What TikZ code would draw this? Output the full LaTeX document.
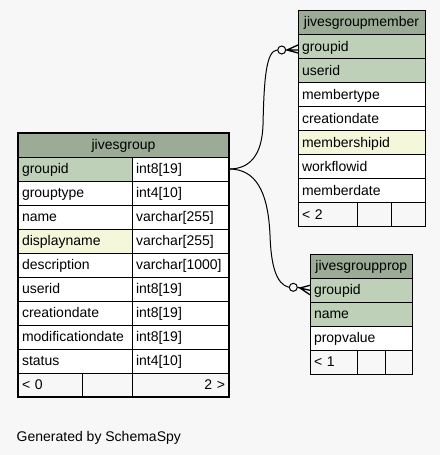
\documentclass[tikz,border=0pt]{standalone}
\usepackage{fontspec}
\setmainfont{Liberation Sans}

\definecolor{bggray}{HTML}{F7F7F7}
\definecolor{headgreen}{HTML}{9BAB96}
\definecolor{pkgreen}{HTML}{BED1B8}
\definecolor{idxyellow}{HTML}{F4F7DA}

\begin{document}
\begin{tikzpicture}[x=1pt, y=-1pt,
    cell/.style={draw, line width=1pt, fill=white, anchor=north west,
        minimum height=24pt, inner xsep=4pt, inner ysep=0pt, outer sep=0pt,
        text height=11.5pt, text depth=2.5pt, align=left,
        font=\fontsize{14}{16}\selectfont},
    head/.style={cell, fill=headgreen, align=center},
    pk/.style={cell, fill=pkgreen},
    idx/.style={cell, fill=idxyellow},
    foot/.style={cell, fill=bggray},
    odot/.style={circle, draw, line width=1pt, fill=bggray, minimum size=8pt, inner sep=0pt}]

        % Background
        \fill[bggray] (0,0) rectangle (440,455);
        \useasboundingbox (0,0) rectangle (440,455);

        % Draw table jivesgroup
        \node[head, text width=203pt] (g-head) at (18,133) {jivesgroup};
        \node[pk, text width=106pt] (g-groupid) at (18,157) {groupid};
        \node[cell, text width=89pt] (g-groupid-t) at (132,157) {int8[19]};
        \node[cell, text width=106pt] (g-grouptype) at (18,181) {grouptype};
        \node[cell, text width=89pt] (g-grouptype-t) at (132,181) {int4[10]};
        \node[cell, text width=106pt] (g-name) at (18,205) {name};
        \node[cell, text width=89pt] (g-name-t) at (132,205) {varchar[255]};
        \node[idx, text width=106pt] (g-displayname) at (18,229) {displayname};
        \node[cell, text width=89pt] (g-displayname-t) at (132,229) {varchar[255]};
        \node[cell, text width=106pt] (g-description) at (18,253) {description};
        \node[cell, text width=89pt] (g-description-t) at (132,253) {varchar[1000]};
        \node[cell, text width=106pt] (g-userid) at (18,277) {userid};
        \node[cell, text width=89pt] (g-userid-t) at (132,277) {int8[19]};
        \node[cell, text width=106pt] (g-creationdate) at (18,301) {creationdate};
        \node[cell, text width=89pt] (g-creationdate-t) at (132,301) {int8[19]};
        \node[cell, text width=106pt] (g-modificationdate) at (18,325) {modificationdate};
        \node[cell, text width=89pt] (g-modificationdate-t) at (132,325) {int8[19]};
        \node[cell, text width=106pt] (g-status) at (18,349) {status};
        \node[cell, text width=89pt] (g-status-t) at (132,349) {int4[10]};
        \node[foot, text width=56pt] (g-foot1) at (18,373) {< 0};
        \node[foot, text width=42pt] (g-foot2) at (82,373) {};
        \node[foot, text width=89pt, align=right] (g-foot3) at (132,373) {2 >};
        \draw[line width=2.7pt] (g-head.north west) rectangle (g-foot3.south east);

        % Draw table jivesgroupmember
        \node[head, text width=119pt] (m-head) at (298,10.5) {jivesgroupmember};
        \node[pk, text width=119pt] (m-groupid) at (298,34.5) {groupid};
        \node[pk, text width=119pt] (m-userid) at (298,58.5) {userid};
        \node[cell, text width=119pt] (m-membertype) at (298,82.5) {membertype};
        \node[cell, text width=119pt] (m-creationdate) at (298,106.5) {creationdate};
        \node[idx, text width=119pt] (m-membershipid) at (298,130.5) {membershipid};
        \node[cell, text width=119pt] (m-workflowid) at (298,154.5) {workflowid};
        \node[cell, text width=119pt] (m-memberdate) at (298,178.5) {memberdate};
        \node[foot, text width=51.5pt] (m-foot1) at (298,202.5) {< 2};
        \node[foot, text width=25.5pt] (m-foot2) at (357.5,202.5) {};
        \node[foot, text width=26pt] (m-foot3) at (391,202.5) {};

        % Draw table jivesgroupprop
        \node[head, text width=94.7pt] (p-head) at (310,254.3) {jivesgroupprop};
        \node[pk, text width=94.7pt] (p-groupid) at (310,278.3) {groupid};
        \node[pk, text width=94.7pt] (p-name) at (310,302.3) {name};
        \node[cell, text width=94.7pt] (p-propvalue) at (310,326.3) {propvalue};
        \node[foot, text width=39.7pt] (p-foot1) at (310,350.3) {< 1};
        \node[foot, text width=19.3pt] (p-foot2) at (357.7,350.3) {};
        \node[foot, text width=19.7pt] (p-foot3) at (385,350.3) {};

        % Relation jivesgroup -> jivesgroupmember
        \node[odot] (m-odot) at (281.7,50) {};
        \draw[line width=1pt] (g-groupid-t.east) .. controls (250,169) and (262,155) .. (263,125)
            .. controls (264,80) and (266,50.5) .. (m-odot.west);
        \draw[line width=1.3pt] (m-odot.east) -- (287,50)
            -- ([yshift=1.5pt]m-groupid.west) (287,50) -- ([yshift=-3.5pt]m-groupid.west)
            (287,50) -- ([yshift=-6.5pt]m-groupid.west);

        % Relation jivesgroup -> jivesgroupprop
        \node[odot] (p-odot) at (293.3,287.3) {};
        \draw[line width=1pt] (g-groupid-t.east) .. controls (255,169) and (268,190) .. (270,235)
            .. controls (271,265) and (276,284) .. (p-odot.west);
        \draw[line width=1.3pt] (p-odot.east) -- (300,288)
            -- ([yshift=5pt]p-groupid.west) (300,288) -- ([yshift=0pt]p-groupid.west)
            (300,288) -- ([yshift=-4.5pt]p-groupid.west);

        % Footer text
        \node[anchor=base west, font=\fontsize{14}{16}\selectfont, inner sep=0pt] (credit) at (16.5,441) {Generated by SchemaSpy};
\end{tikzpicture}
\end{document}
